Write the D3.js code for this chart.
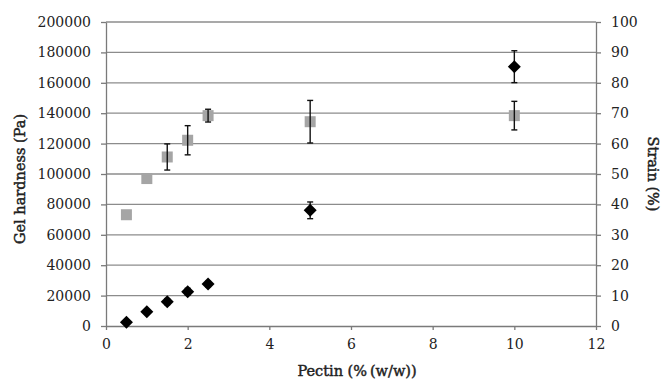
<!DOCTYPE html>
<html>
<head>
<meta charset="utf-8">
<script src="https://cdn.jsdelivr.net/npm/d3@7"></script>
<style>
  body { margin: 0; background: #fff; }
  text { font-family: "DejaVu Serif", serif; }
</style>
</head>
<body>
<div id="chart"></div>
<script>
var width = 662,
    height = 381;

// pectin concentration (% w/w)
var pectin = [0.5, 1, 1.5, 2, 2.5, 5, 10];
// gel hardness (Pa), left axis
var hardness = [2400, 9400, 16000, 22600, 27600, 76100, 170600];
var hardnessErr = [600, 800, 2000, 2200, 1800, 5500, 10500];
// strain (%), right axis
var strain = [36.6, 48.5, 55.6, 61.1, 69.2, 67.2, 69.2];
var strainErr = [0, 0, 4.3, 4.8, 2.1, 7.0, 4.7];

var xTicks = [0, 2, 4, 6, 8, 10, 12];
var yTicks = d3.range(0, 200001, 20000);
var y2Ticks = d3.range(0, 101, 10);

var margin = {top: 22, right: 66, bottom: 55, left: 106};

var svg = d3.select("#chart")
  .append("svg")
  .attr("width", width)
  .attr("height", height);

var x = d3.scaleLinear().domain([0, 12]).range([margin.left, width - margin.right]);
var y = d3.scaleLinear().domain([0, 200000]).range([height - margin.bottom, margin.top]);
var y2 = d3.scaleLinear().domain([0, 100]).range([height - margin.bottom, margin.top]);

var grid = "#8c8c8c";

// gridlines
svg.selectAll(".grid")
  .data(yTicks.slice(1))
  .enter().append("line")
    .attr("x1", x(0)).attr("x2", x(12))
    .attr("y1", function(d) { return y(d); })
    .attr("y2", function(d) { return y(d); })
    .attr("stroke", grid)
    .attr("stroke-width", 1.3);

function styleAxis(g) {
  g.select(".domain").attr("stroke", "#7a7a7a").attr("stroke-width", 1.3);
  g.selectAll(".tick line").attr("stroke", "#7a7a7a").attr("stroke-width", 1.3);
  g.selectAll(".tick text").attr("fill", "#222").style("font-size", "14px");
}

svg.append("g")
  .attr("transform", "translate(0," + y(0) + ")")
  .call(d3.axisBottom(x).tickValues(xTicks).tickSize(4).tickSizeOuter(0).tickPadding(9))
  .call(styleAxis);

svg.append("g")
  .attr("transform", "translate(" + x(0) + ",0)")
  .call(d3.axisLeft(y).tickValues(yTicks).tickFormat(d3.format("d")).tickSize(5).tickSizeOuter(0).tickPadding(10))
  .call(styleAxis);

svg.append("g")
  .attr("transform", "translate(" + x(12) + ",0)")
  .call(d3.axisRight(y2).tickValues(y2Ticks).tickSize(5).tickSizeOuter(0).tickPadding(10))
  .call(styleAxis);

// error bars
function errorBars(vals, errs, scale) {
  var g = svg.append("g").attr("stroke", "#111").attr("stroke-width", 1.4);
  pectin.forEach(function(p, i) {
    if (!errs[i]) return;
    var cx = x(p), lo = scale(vals[i] - errs[i]), hi = scale(vals[i] + errs[i]);
    g.append("line").attr("x1", cx).attr("x2", cx).attr("y1", lo).attr("y2", hi);
    g.append("line").attr("x1", cx - 3).attr("x2", cx + 3).attr("y1", lo).attr("y2", lo);
    g.append("line").attr("x1", cx - 3).attr("x2", cx + 3).attr("y1", hi).attr("y2", hi);
  });
}

// strain squares
svg.selectAll(".sq")
  .data(pectin)
  .enter().append("rect")
    .attr("x", function(d) { return x(d) - 5.5; })
    .attr("y", function(d, i) { return y2(strain[i]) - 5.5; })
    .attr("width", 11).attr("height", 11)
    .attr("fill", "#a5a5a5");
errorBars(strain, strainErr, y2);

// hardness diamonds
errorBars(hardness, hardnessErr, y);
svg.selectAll(".dm")
  .data(pectin)
  .enter().append("path")
    .attr("d", function(d, i) {
      var cx = x(d), cy = y(hardness[i]), r = 6.5;
      return "M" + cx + "," + (cy - r) + "L" + (cx + r) + "," + cy + "L" + cx + "," + (cy + r) + "L" + (cx - r) + "," + cy + "Z";
    })
    .attr("fill", "#000");

// axis titles
function title(t) {
  t.attr("text-anchor", "middle")
    .style("font-size", "14.5px")
    .attr("fill", "#222").attr("stroke", "#222").attr("stroke-width", 0.45);
}

svg.append("text")
  .attr("x", 357).attr("y", 376)
  .call(title)
  .text("Pectin (%\u2009(w/w))");

svg.append("text")
  .attr("transform", "translate(25,179) rotate(-90)")
  .call(title)
  .text("Gel hardness (Pa)");

svg.append("text")
  .attr("transform", "translate(648,174) rotate(90)")
  .call(title)
  .text("Strain (%)");
</script>
</body>
</html>
